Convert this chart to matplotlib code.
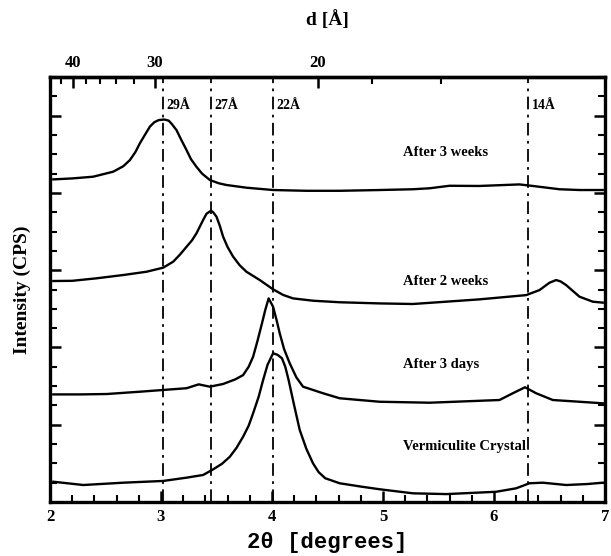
import numpy as np
import matplotlib
matplotlib.use("Agg")
import matplotlib.pyplot as plt

# 2-theta (deg) and intensity (offset, arbitrary units)
tt_3weeks = [2.03, 2.20, 2.39, 2.57, 2.66, 2.72, 2.77, 2.81, 2.86, 2.90, 2.94, 2.98, 3.03,
             3.07, 3.10, 3.14, 3.18, 3.23, 3.27, 3.32, 3.37, 3.44, 3.52, 3.59, 3.77,
             4.01, 4.31, 4.61, 4.97, 5.27, 5.42, 5.60, 5.87, 6.23, 6.35, 6.59, 6.77, 6.98]
int_3weeks = [16.70, 16.75, 16.84, 17.10, 17.38, 17.70, 18.12, 18.57, 19.05, 19.43, 19.66, 19.77, 19.80,
              19.74, 19.55, 19.25, 18.78, 18.22, 17.75, 17.35, 17.00, 16.67, 16.50, 16.41, 16.27,
              16.15, 16.11, 16.11, 16.15, 16.19, 16.24, 16.37, 16.36, 16.44, 16.36, 16.19, 16.15, 16.15]

tt_2weeks = [2.03, 2.20, 2.42, 2.66, 2.87, 3.02, 3.11, 3.17, 3.23, 3.28, 3.32, 3.38, 3.41,
             3.45, 3.47, 3.50, 3.53, 3.56, 3.60, 3.65, 3.71, 3.77, 3.89, 4.01, 4.10, 4.19,
             4.37, 4.61, 4.97, 5.27, 5.57, 5.87, 6.29, 6.41, 6.50, 6.56, 6.60, 6.65, 6.77,
             6.89, 6.98]
int_2weeks = [11.44, 11.45, 11.58, 11.75, 11.92, 12.13, 12.44, 12.80, 13.21, 13.55, 13.91, 14.60, 14.92,
              15.08, 15.00, 14.77, 14.30, 13.73, 13.20, 12.70, 12.25, 11.92, 11.49, 11.01, 10.72, 10.54,
              10.42, 10.34, 10.28, 10.25, 10.37, 10.49, 10.71, 10.97, 11.35, 11.49, 11.42, 11.23, 10.63,
              10.37, 10.32]

tt_3days = [2.03, 2.27, 2.51, 2.81, 3.02, 3.23, 3.34, 3.44, 3.56, 3.67, 3.74, 3.79, 3.83,
            3.87, 3.91, 3.94, 3.97, 4.01, 4.04, 4.07, 4.11, 4.16, 4.22, 4.28, 4.46, 4.61,
            4.97, 5.42, 6.05, 6.17, 6.28, 6.38, 6.53, 6.77, 6.98]
int_3days = [5.57, 5.57, 5.59, 5.71, 5.80, 5.89, 6.09, 5.97, 6.11, 6.35, 6.57, 7.00, 7.52,
             8.35, 9.25, 9.95, 10.54, 10.11, 9.45, 8.73, 7.90, 7.18, 6.45, 5.97, 5.63, 5.37,
             5.19, 5.14, 5.28, 5.63, 5.94, 5.63, 5.28, 5.19, 5.11]

tt_verm = [2.03, 2.30, 2.66, 3.02, 3.23, 3.38, 3.47, 3.55, 3.62, 3.68, 3.74, 3.79, 3.83,
           3.88, 3.92, 3.96, 4.01, 4.05, 4.09, 4.12, 4.15, 4.20, 4.25, 4.31, 4.37, 4.42,
           4.48, 4.61, 4.80, 4.97, 5.27, 5.57, 6.02, 6.20, 6.32, 6.44, 6.65, 6.84, 6.98]
int_verm = [1.05, 0.88, 1.00, 1.09, 1.26, 1.40, 1.69, 1.98, 2.34, 2.80, 3.38, 3.95, 4.59,
            5.45, 6.31, 7.10, 7.70, 7.62, 7.44, 7.00, 6.31, 5.00, 3.73, 2.75, 2.00, 1.55,
            1.23, 0.97, 0.80, 0.66, 0.45, 0.41, 0.53, 0.71, 0.97, 1.00, 0.88, 0.93, 1.00]

# reference lines (2-theta) and their d-spacing labels
ref_tt = [3.02, 3.45, 4.01, 6.31]
ref_labels = ["29Å", "27Å", "22Å", "14Å"]

curve_labels = ["After 3 weeks", "After 2 weeks", "After 3 days", "Vermiculite Crystal"]
curve_label_y = [18.08, 11.40, 7.14, 2.86]

d_major = [40, 30, 20]
d_minor = [42, 38, 36, 34, 32, 18, 16]

LAMBDA = 1.5406  # Cu K-alpha


def tt_to_d(tt):
    tt = np.asarray(tt, dtype=float)
    s = np.sin(np.radians(np.where(tt > 0.01, tt, 0.01) / 2))
    return LAMBDA / (2 * s)


def d_to_tt(d):
    d = np.asarray(d, dtype=float)
    d = np.where(d > 0.8, d, 0.8)
    return 2 * np.degrees(np.arcsin(np.clip(LAMBDA / (2 * d), -1, 1)))


serif = "Liberation Serif"
plt.rcParams['font.family'] = [serif, 'DejaVu Sans']
plt.rcParams['font.weight'] = 'bold'

fig = plt.figure(figsize=(6.11, 5.56), dpi=100)
ax = fig.add_axes([0.0818, 0.0971, 0.9083, 0.7644])

for xs, ys in [(tt_3weeks, int_3weeks), (tt_2weeks, int_2weeks),
               (tt_3days, int_3days), (tt_verm, int_verm)]:
    ax.plot(xs, ys, color='black', lw=1.7, solid_joinstyle='round')

for xv in ref_tt:
    ax.axvline(xv, color='black', lw=1.3, ls=(0, (7, 3, 1.5, 3)))

for xv, lab in zip(ref_tt, ref_labels):
    ax.text(xv + 0.03, 20.55, lab, fontsize=10, fontweight='bold', va='center', ha='left')

for lab, yv in zip(curve_labels, curve_label_y):
    ax.text(5.18, yv, lab, fontsize=10.5, fontweight='bold', va='center', ha='left')

ax.set_xlim(2, 7)
ax.set_ylim(0, 22)
ax.set_xticks([2, 3, 4, 5, 6, 7])
ax.set_xticks(np.arange(2, 7.01, 0.2), minor=True)
ax.set_yticks([0, 4, 8, 12, 16, 20])
ax.set_yticks(np.arange(0, 22.1, 1), minor=True)
ax.set_yticklabels([])
ax.tick_params(axis='x', which='both', direction='in', top=False, labelsize=12, pad=5)
ax.tick_params(axis='y', which='both', direction='in', left=True, right=True)
ax.tick_params(which='major', length=8, width=1.8)
ax.tick_params(which='minor', length=5, width=1.5)
for lbl in ax.get_xticklabels():
    lbl.set_fontweight('bold')

for sp in ax.spines.values():
    sp.set_linewidth(2.4)

sec = ax.secondary_xaxis('top', functions=(tt_to_d, d_to_tt))
sec.set_xticks(d_major)
sec.set_xticks(d_minor, minor=True)
sec.set_xticklabels([str(v) for v in d_major], fontsize=12, fontweight='bold')
sec.tick_params(which='both', direction='in', pad=4)
sec.tick_params(which='major', length=8, width=1.8)
sec.tick_params(which='minor', length=5, width=1.5)
sec.spines['top'].set_linewidth(2.4)
sec.set_xlabel("d [Å]", fontsize=14, fontweight='bold', labelpad=22)

ax.set_ylabel("Intensity (CPS)", fontsize=14, fontweight='bold', labelpad=10)
ax.set_xlabel("2θ [degrees]", fontsize=16, fontweight='bold',
              family=['Liberation Mono', 'DejaVu Sans'], labelpad=5)

fig.savefig("out.png", dpi=100)
